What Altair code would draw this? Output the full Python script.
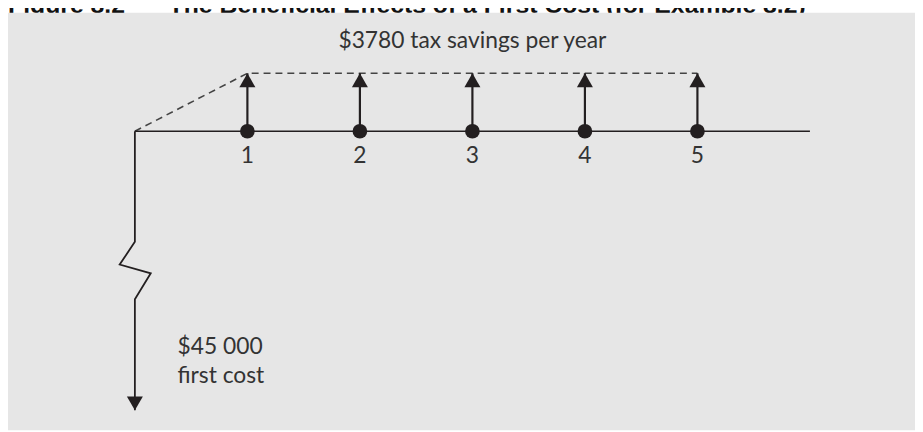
import altair as alt
import pandas as pd

# ---- data ----
years = [1, 2, 3, 4, 5]
savings = [3780, 3780, 3780, 3780, 3780]
first_cost = 45000
horizon = 6
title_num = "Figure 8.2"
title_text = "The Beneficial Effects of a First Cost (for Example 8.2)"
savings_label = "$3780 tax savings per year"
cost_label = ["$45 000", "first cost"]

# break symbol on the first-cost arrow (years, dollars)
break_t = [0, 0, -0.135, 0.141, 0, 0]
break_v = [0, -8800, -11600, -12800, -16800, -first_cost]

W, H = 915, 424
INK = "#231f20"
BG = "#e6e6e6"
FONT = "Lato"
TXT = "#333333"

xs = alt.Scale(domain=[0, horizon], range=[128, 809], nice=False, zero=False)
ys = alt.Scale(type="symlog", constant=7700, domain=[-first_cost, savings[0]],
               range=[404, 64], nice=False, zero=False)

def X(f="t"):
    return alt.X(f"{f}:Q", scale=xs, axis=None)

def Y(f="v"):
    return alt.Y(f"{f}:Q", scale=ys, axis=None)

flows = pd.DataFrame({"t": years, "v": savings, "z": [0] * len(years),
                      "lab": [str(y) for y in years]})

# title (mostly cut off at the top, as in the reference)
title_df = pd.DataFrame({"txt": [title_num, title_text], "px": [0, 162]})
title = alt.Chart(title_df).mark_text(
    font="Liberation Sans", fontWeight="bold", fontSize=25, align="left",
    baseline="alphabetic", color="#111"
).encode(x=alt.X("px:Q", scale=None, axis=None), y=alt.value(3), text="txt:N")

panel = alt.Chart(pd.DataFrame({"a": [0]})).mark_rect(color=BG).encode(
    x=alt.value(0), x2=alt.value(W), y=alt.value(3), y2=alt.value(H))

# dashed envelope
env = pd.DataFrame({"t": [0, years[0], years[-1]],
                    "v": [0, savings[0], savings[-1]], "i": [0, 1, 2]})
dashed = alt.Chart(env).mark_line(color="#444", strokeWidth=1.6,
                                  strokeDash=[7, 5]).encode(
    x=X(), y=Y(), order="i:O")

# time axis
axis_df = pd.DataFrame({"t": [0], "t2": [horizon], "v": [0]})
axis_line = alt.Chart(axis_df).mark_rule(color=INK, strokeWidth=1.6).encode(
    x=X(), x2="t2:Q", y=Y())

# first-cost arrow with break
brk = pd.DataFrame({"t": break_t, "v": break_v, "i": list(range(len(break_t)))})
down_line = alt.Chart(brk).mark_line(color=INK, strokeWidth=1.8).encode(
    x=X(), y=Y(), order="i:O")
down_head = alt.Chart(pd.DataFrame({"t": [0], "v": [-first_cost]})).mark_point(
    shape="triangle-down", filled=True, size=260, color=INK, opacity=1,
    yOffset=-7
).encode(x=X(), y=Y())

# savings arrows
shafts = alt.Chart(flows).mark_rule(color=INK, strokeWidth=2.2).encode(
    x=X(), y=Y(), y2="z:Q")
heads = alt.Chart(flows).mark_point(
    shape="triangle-up", filled=True, size=260, color=INK, opacity=1,
    yOffset=7
).encode(x=X(), y=Y())
dots = alt.Chart(flows).mark_circle(size=220, color=INK, opacity=1).encode(
    x=X(), y=Y("z"))
ticks = alt.Chart(flows).mark_text(font=FONT, fontSize=23, color=TXT,
                                   baseline="middle", dy=25).encode(
    x=X(), y=Y("z"), text="lab:N")

sav_txt = alt.Chart(pd.DataFrame({"t": [3], "v": [savings[0]], "s": [savings_label]})).mark_text(
    font=FONT, fontSize=23, color=TXT, baseline="middle", dy=-33).encode(
    x=X(), y=Y(), text="s:N")

cost_df = pd.DataFrame({"t": [0, 0], "v": [-first_cost, -first_cost],
                        "s": cost_label, "dy": [-64, -35]})
cost_txt = alt.layer(*[
    alt.Chart(cost_df.iloc[[k]]).mark_text(
        font=FONT, fontSize=23, color=TXT, align="left", baseline="middle",
        dx=43, dy=int(cost_df["dy"][k])).encode(x=X(), y=Y(), text="s:N")
    for k in range(len(cost_df))
])

chart = alt.layer(
    title, panel, dashed, axis_line, down_line, down_head,
    shafts, heads, dots, ticks, sav_txt, cost_txt
).properties(
    width=W, height=H, padding=0, background="white",
    autosize=alt.AutoSizeParams(type="none")
).configure_view(strokeWidth=0)

chart.save("out.html", embed_options={"renderer": "svg", "actions": False})
